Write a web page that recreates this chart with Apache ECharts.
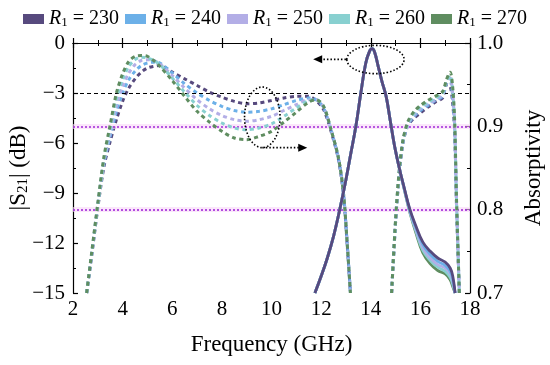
<!DOCTYPE html>
<html><head><meta charset="utf-8">
<script src="https://cdn.jsdelivr.net/npm/echarts@6/dist/echarts.min.js"></script>
<style>html,body{margin:0;padding:0;background:#fff}#c{width:550px;height:365px}</style>
</head><body><div id="c"></div>
<script>
// ---- data ----
const seriesNames = ['R1 = 230', 'R1 = 240', 'R1 = 250', 'R1 = 260', 'R1 = 270'];
const xTicks = [2, 4, 6, 8, 10, 12, 14, 16, 18];
const leftTicks = [0, -3, -6, -9, -12, -15];
const rightTicks = [0.7, 0.8, 0.9, 1.0];

// absorptivity (right axis), null = below 0.7 (off chart)
const freqAbs = [2.55, 2.75, 3.0, 3.25, 3.5, 3.75, 4.0, 4.25, 4.5, 4.75, 5.0, 5.25, 5.5, 6.0, 6.5, 7.0, 7.5, 8.0, 8.5, 9.0, 9.5, 10.0, 10.5, 11.0, 11.5, 11.8, 12.1, 12.4, 12.7, 12.9, 13.05, 13.18, 14.0, 14.84, 15.0, 15.15, 15.3, 15.5, 15.75, 16.0, 16.3, 16.6, 16.9, 17.05, 17.2, 17.3, 17.38, 17.46, 17.57];
const abs230 = [0.70, 0.744, 0.802, 0.852, 0.882, 0.908, 0.93, 0.946, 0.957, 0.965, 0.97, 0.972, 0.973, 0.965, 0.957, 0.949, 0.941, 0.935, 0.93, 0.927, 0.928, 0.931, 0.934, 0.936, 0.936, 0.931, 0.92, 0.894, 0.86, 0.818, 0.758, 0.70, null, 0.70, 0.784, 0.842, 0.88, 0.901, 0.91, 0.916, 0.923, 0.929, 0.934, 0.95, 0.948, 0.928, 0.894, 0.80, 0.70];
const abs240 = [0.70, 0.745, 0.804, 0.856, 0.888, 0.918, 0.94, 0.956, 0.966, 0.973, 0.976, 0.977, 0.976, 0.964, 0.951, 0.94, 0.931, 0.924, 0.919, 0.917, 0.918, 0.921, 0.926, 0.931, 0.934, 0.932, 0.922, 0.896, 0.861, 0.82, 0.76, 0.70, null, 0.70, 0.785, 0.844, 0.881, 0.902, 0.912, 0.919, 0.925, 0.931, 0.936, 0.951, 0.954, 0.934, 0.898, 0.804, 0.70];
const abs250 = [0.70, 0.746, 0.805, 0.858, 0.893, 0.925, 0.948, 0.964, 0.974, 0.979, 0.98, 0.979, 0.975, 0.961, 0.946, 0.932, 0.921, 0.913, 0.908, 0.906, 0.908, 0.912, 0.919, 0.926, 0.932, 0.932, 0.923, 0.896, 0.861, 0.82, 0.76, 0.70, null, 0.70, 0.786, 0.846, 0.882, 0.903, 0.914, 0.921, 0.927, 0.932, 0.938, 0.952, 0.958, 0.94, 0.902, 0.806, 0.70];
const abs260 = [0.70, 0.747, 0.806, 0.861, 0.898, 0.933, 0.956, 0.972, 0.98, 0.983, 0.982, 0.979, 0.974, 0.958, 0.941, 0.925, 0.913, 0.904, 0.898, 0.896, 0.898, 0.903, 0.912, 0.922, 0.931, 0.932, 0.924, 0.896, 0.862, 0.82, 0.76, 0.70, null, 0.70, 0.787, 0.847, 0.883, 0.904, 0.916, 0.923, 0.929, 0.934, 0.94, 0.954, 0.961, 0.944, 0.905, 0.808, 0.70];
const abs270 = [0.70, 0.748, 0.808, 0.864, 0.902, 0.94, 0.963, 0.978, 0.984, 0.985, 0.984, 0.979, 0.972, 0.955, 0.936, 0.918, 0.905, 0.894, 0.886, 0.884, 0.888, 0.894, 0.905, 0.917, 0.929, 0.932, 0.924, 0.896, 0.862, 0.82, 0.76, 0.70, null, 0.70, 0.788, 0.848, 0.884, 0.906, 0.918, 0.925, 0.931, 0.936, 0.942, 0.956, 0.965, 0.948, 0.908, 0.81, 0.70];

// |S21| in dB (left axis)
const freqS21 = [11.75, 12.0, 12.25, 12.5, 12.75, 13.0, 13.2, 13.4, 13.6, 13.8, 13.95, 14.05, 14.15, 14.3, 14.45, 14.62, 14.78, 14.95, 15.15, 15.35, 15.58, 15.8, 16.1, 16.4, 16.7, 17.0, 17.2, 17.3, 17.4];
const s21_230 = [-15, -14.0, -12.9, -11.6, -10.0, -8.2, -6.6, -5.0, -3.0, -1.2, -0.5, -0.34, -0.52, -1.4, -2.3, -3.2, -4.6, -6.1, -7.5, -8.7, -10.0, -10.9, -11.95, -12.5, -12.9, -13.15, -13.5, -13.95, -15];
const s21_240 = [-15, -14.0, -12.9, -11.6, -10.0, -8.2, -6.6, -5.0, -3.0, -1.2, -0.5, -0.34, -0.52, -1.4, -2.3, -3.2, -4.6, -6.1, -7.5, -8.72, -10.05, -11.0, -12.1, -12.7, -13.1, -13.35, -13.7, -14.15, -15];
const s21_250 = [-15, -14.0, -12.9, -11.6, -10.0, -8.2, -6.6, -5.0, -3.0, -1.2, -0.5, -0.34, -0.52, -1.4, -2.3, -3.2, -4.6, -6.1, -7.5, -8.74, -10.1, -11.1, -12.3, -12.9, -13.3, -13.5, -13.85, -14.3, -15];
const s21_260 = [-15, -14.0, -12.9, -11.6, -10.0, -8.2, -6.6, -5.0, -3.0, -1.2, -0.5, -0.34, -0.52, -1.4, -2.3, -3.2, -4.6, -6.1, -7.5, -8.76, -10.15, -11.2, -12.45, -13.05, -13.45, -13.7, -14.05, -14.45, -15];
const s21_270 = [-15, -14.0, -12.9, -11.6, -10.0, -8.2, -6.6, -5.0, -3.0, -1.2, -0.5, -0.34, -0.52, -1.4, -2.3, -3.2, -4.6, -6.1, -7.5, -8.78, -10.2, -11.3, -12.6, -13.25, -13.65, -13.85, -14.2, -14.6, -15];

const refLevelDash = -3;        // black dashed
const refLevelsDot = [-5, -10]; // purple dotted (0.9 and 0.8 absorptivity)

// ---- chart ----
const FONT = 'Liberation Serif';
const colors = ['#574a7e', '#6cb0e8', '#b3aee6', '#88d0d0', '#5f8d60'];
const absSets = [abs230, abs240, abs250, abs260, abs270];
const s21Sets = [s21_230, s21_240, s21_250, s21_260, s21_270];
const chart = echarts.init(document.getElementById('c'), null, {renderer: 'canvas'});

const series = [];
absSets.forEach((arr, i) => {
  series.push({
    name: seriesNames[i], type: 'line', xAxisIndex: 0, yAxisIndex: 1,
    data: freqAbs.map((f, k) => [f, arr[k]]),
    showSymbol: false, smooth: 0.3, connectNulls: false, clip: true,
    lineStyle: {color: colors[i], width: 3, type: [4, 3.5]},
    itemStyle: {color: colors[i]}, z: 3 + i
  });
});
for (let i = 4; i >= 0; i--) {
  series.push({
    name: seriesNames[i], type: 'line', xAxisIndex: 0, yAxisIndex: 0,
    data: freqS21.map((f, k) => [f, s21Sets[i][k]]),
    showSymbol: false, smooth: 0.4, clip: true,
    lineStyle: {color: colors[i], width: 2.8},
    itemStyle: {color: colors[i]}, z: 10 + (4 - i)
  });
}
const mlData = [{yAxis: refLevelDash, lineStyle: {color: '#000', type: [4, 3], width: 1.2}}];
refLevelsDot.forEach(v => {
  mlData.push({yAxis: v, lineStyle: {color: '#f9d6f9', type: 'solid', width: 5, opacity: 0.6}});
  mlData.push({yAxis: v, lineStyle: {color: '#a02ad8', type: [2, 2], width: 1.6}});
});
series.push({
  type: 'line', xAxisIndex: 0, yAxisIndex: 0, data: [], z: 2,
  markLine: {silent: true, symbol: 'none', label: {show: false}, animation: false, data: mlData}
});

const axisCommon = {
  axisLine: {show: true, lineStyle: {color: '#000', width: 1.2}},
  axisTick: {show: true, inside: true, length: 5, lineStyle: {color: '#000', width: 1.2}},
  minorTick: {show: true, splitNumber: 2, length: 3, lineStyle: {color: '#000', width: 1}},
  splitLine: {show: false},
  axisLabel: {color: '#000', fontFamily: FONT, fontSize: 21}
};
const titleStyle = {color: '#000', fontFamily: FONT, fontSize: 23};

chart.setOption({
  animation: false,
  backgroundColor: '#fff',
  legend: {
    data: seriesNames, top: 4, left: 'center', icon: 'rect',
    itemWidth: 21, itemHeight: 10, itemGap: 6,
    formatter: n => '{i|R}{s|1}{t|' + n.slice(2) + '}',
    textStyle: {color: '#000', fontFamily: FONT, fontSize: 20,
      rich: {
        i: {fontFamily: FONT, fontSize: 20, fontStyle: 'italic', color: '#000'},
        s: {fontFamily: FONT, fontSize: 13, color: '#000', verticalAlign: 'bottom', padding: [8, 0, 0, 0]},
        t: {fontFamily: FONT, fontSize: 20, color: '#000'}
      }}
  },
  grid: {left: 73, right: 80, top: 43, bottom: 72, containLabel: false, outerBoundsMode: 'none'},
  xAxis: [
    Object.assign({}, axisCommon, {
      type: 'value', position: 'bottom', min: 2, max: 18, interval: 2,
      name: 'Frequency (GHz)', nameLocation: 'middle', nameGap: 40, nameMoveOverlap: false,
      nameTextStyle: titleStyle,
      axisLabel: Object.assign({}, axisCommon.axisLabel, {margin: 6})
    }),
    Object.assign({}, axisCommon, {
      type: 'value', position: 'top', min: 2, max: 18, interval: 2,
      axisLabel: {show: false}
    })
  ],
  yAxis: [
    Object.assign({}, axisCommon, {
      type: 'value', position: 'left', min: -15, max: 0, interval: 3,
      name: '|S{sub|21}| (dB)', nameLocation: 'middle', nameGap: 42, nameRotate: 90, nameMoveOverlap: false,
      nameTextStyle: Object.assign({}, titleStyle,
        {rich: {sub: {fontFamily: FONT, fontSize: 15, color: '#000', verticalAlign: 'bottom', padding: [9, 0, 0, 0]}}}),
      axisLabel: Object.assign({}, axisCommon.axisLabel, {margin: 8,
        formatter: v => v === 0 ? '0' : '\u2212' + Math.abs(v)})
    }),
    Object.assign({}, axisCommon, {
      type: 'value', position: 'right', min: 0.7, max: 1.0, interval: 0.1,
      name: 'Absorptivity', nameLocation: 'middle', nameGap: 52, nameRotate: 90, nameMoveOverlap: false,
      nameTextStyle: titleStyle,
      axisLabel: Object.assign({}, axisCommon.axisLabel, {margin: 7,
        formatter: v => v.toFixed(1)})
    })
  ],
  series: series
});

// annotations placed in data coordinates (frequency, dB)
function px(f, d) { return chart.convertToPixel({xAxisIndex: 0, yAxisIndex: 0}, [f, d]); }
const e1c = px(14.19, -0.99), e1r = px(15.345, -1.84);
const e2c = px(9.63, -4.46), e2r = px(10.346, -6.28);
const a1s = px(13.0, -0.98), a1e = px(11.68, -0.98);
const a2s = px(9.63, -6.28), a2e = px(11.44, -6.28);
const dotted = {stroke: '#000', lineWidth: 1.6, lineDash: [1.5, 2], fill: null};
chart.setOption({
  graphic: [
    {type: 'ellipse', z: 50, shape: {cx: e1c[0], cy: e1c[1], rx: e1r[0] - e1c[0], ry: e1r[1] - e1c[1]}, style: dotted},
    {type: 'ellipse', z: 50, shape: {cx: e2c[0], cy: e2c[1], rx: e2r[0] - e2c[0], ry: e2r[1] - e2c[1]}, style: dotted},
    {type: 'line', z: 50, shape: {x1: a1s[0], y1: a1s[1], x2: a1e[0] + 6, y2: a1e[1]}, style: dotted},
    {type: 'polygon', z: 50, shape: {points: [[a1e[0], a1e[1]], [a1e[0] + 9, a1e[1] - 4], [a1e[0] + 9, a1e[1] + 4]]}, style: {fill: '#000'}},
    {type: 'line', z: 50, shape: {x1: a2s[0], y1: a2s[1], x2: a2e[0] - 6, y2: a2e[1]}, style: dotted},
    {type: 'polygon', z: 50, shape: {points: [[a2e[0], a2e[1]], [a2e[0] - 9, a2e[1] - 4], [a2e[0] - 9, a2e[1] + 4]]}, style: {fill: '#000'}}
  ]
});
</script>
</body></html>
